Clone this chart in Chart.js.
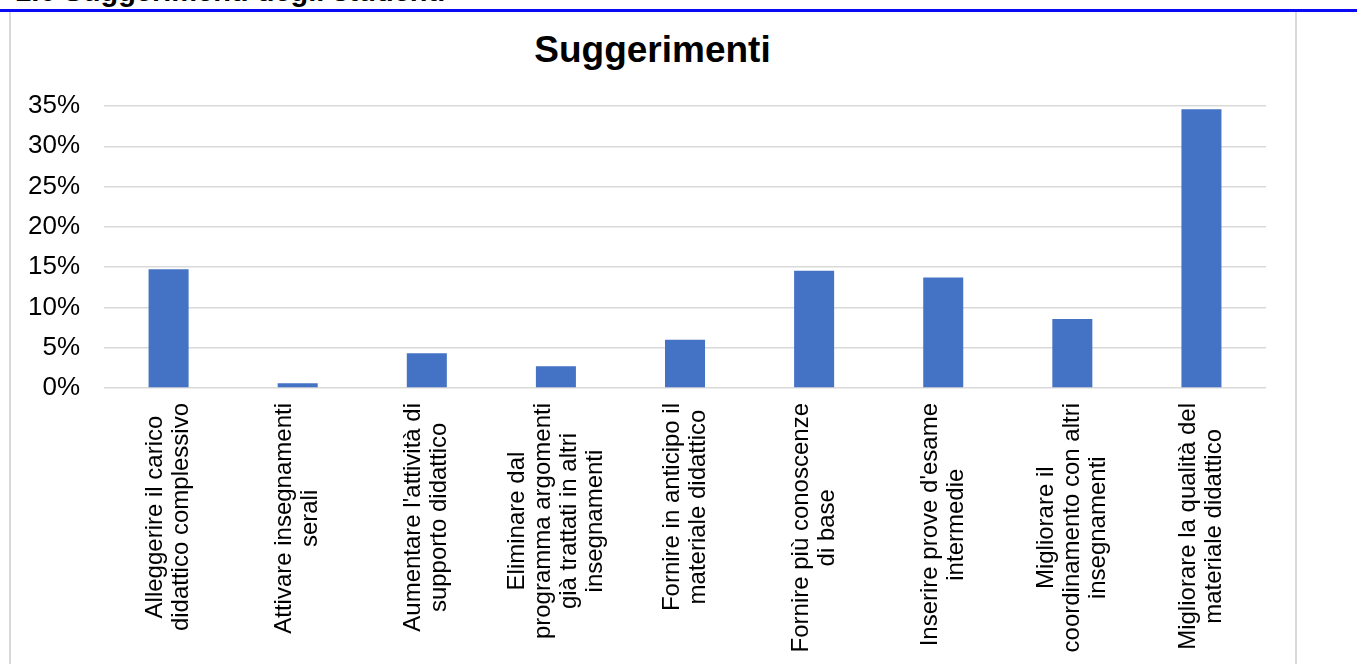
<!DOCTYPE html>
<html lang="it">
<head>
<meta charset="utf-8">
<title>Suggerimenti</title>
<script src="https://cdn.jsdelivr.net/npm/chart.js@4.4.1/dist/chart.umd.min.js"></script>
<style>
    html, body {
        margin: 0;
        padding: 0;
        background: #fff;
        width: 1357px;
        height: 664px;
        overflow: hidden;
        font-family: 'Liberation Sans', Arial, sans-serif;
    }
    #section-title {
        position: absolute;
        left: 15px;
        top: -23px;
        font-size: 29px;
        line-height: 29px;
        font-weight: bold;
        color: #000;
        white-space: nowrap;
    }
    #rule {
        position: absolute;
        left: 0;
        top: 9px;
        width: 1357px;
        height: 3px;
        background: #0a0af5;
    }
    #chart-box {
        position: absolute;
        left: 9px;
        top: 12px;
        width: 1284px;
        height: 652px;
        border-left: 2px solid #d9d9d9;
        border-right: 2px solid #d9d9d9;
    }
    /* chart title, centred on the chart box */
    #chart-title {
        position: absolute;
        left: 11px;
        top: 31px;
        width: 1283px;
        text-align: center;
        font-size: 37px;
        line-height: 37px;
        font-weight: bold;
        color: #000;
    }
    #chart-wrap {
        position: absolute;
        left: 11px;
        top: 12px;
        width: 1283px;
        height: 652px;
    }
</style>
</head>
<body>
<div id="section-title">1.6 Suggerimenti degli studenti</div>
<div id="rule"></div>
<div id="chart-box"></div>
<div id="chart-title">Suggerimenti</div>
<div id="chart-wrap"><canvas id="myChart"></canvas></div>

<script>
// Categories (one entry per bar, split in lines as in the original)
const categories = [
    ['Alleggerire il carico', 'didattico complessivo'],
    ['Attivare insegnamenti', 'serali'],
    ["Aumentare l'attività di", 'supporto didattico'],
    ['Eliminare dal', 'programma argomenti', 'già trattati in altri', 'insegnamenti'],
    ['Fornire in anticipo il', 'materiale didattico'],
    ['Fornire più conoscenze', 'di base'],
    ["Inserire prove d'esame", 'intermedie'],
    ['Migliorare il', 'coordinamento con altri', 'insegnamenti'],
    ['Migliorare la qualità del', 'materiale didattico']
];

// Share of students for each suggestion (%)
const suggestionShares = [14.75, 0.6, 4.3, 2.7, 6.0, 14.55, 13.7, 8.55, 34.6];

// Y axis ticks (%)
const yTicks = [0, 5, 10, 15, 20, 25, 30, 35];

const FONT = "'Liberation Sans', Arial, sans-serif";
const LABEL_SIZE = 24;
const LABEL_LINE = 26;
const LABEL_GAP = 15;

const ChartModule = (() => {
    let chartInstance = null;

    // Draws the rotated category labels with lines centred on each other
    const centeredXLabels = {
        id: 'centeredXLabels',
        afterDraw(chart) {
            const { ctx } = chart;
            const xScale = chart.scales.x;
            const yScale = chart.scales.y;
            ctx.save();
            ctx.font = LABEL_SIZE + 'px ' + FONT;
            ctx.fillStyle = '#000';
            ctx.textAlign = 'center';
            ctx.textBaseline = 'middle';
            categories.forEach((lines, i) => {
                const cx = xScale.getPixelForValue(i);
                const w = Math.max(...lines.map(l => ctx.measureText(l).width));
                ctx.save();
                ctx.translate(cx, yScale.bottom + LABEL_GAP);
                ctx.rotate(-Math.PI / 2);
                lines.forEach((line, j) => {
                    ctx.fillText(line, -w / 2, (j - (lines.length - 1) / 2) * LABEL_LINE);
                });
                ctx.restore();
            });
            ctx.restore();
        }
    };

    function renderChart() {
        const chartElement = document.getElementById('myChart');
        if (!chartElement) {
            console.error("Canvas element with id 'myChart' not found.");
            return;
        }

        if (chartInstance) {
            chartInstance.destroy();
        }

        const ctx = chartElement.getContext('2d');
        chartInstance = new Chart(ctx, {
            type: 'bar',
            data: {
                labels: categories,
                datasets: [{
                    label: 'Suggerimenti',
                    data: suggestionShares,
                    backgroundColor: '#4472C4',
                    borderWidth: 0,
                    barPercentage: 0.31,
                    categoryPercentage: 1
                }]
            },
            options: {
                responsive: true,
                maintainAspectRatio: false,
                animation: false,
                layout: {
                    padding: { top: 94, left: 17, right: 28, bottom: 276 }
                },
                plugins: {
                    legend: { display: false },
                    tooltip: { enabled: false },
                    title: { display: false }
                },
                scales: {
                    x: {
                        grid: { display: false, drawTicks: false },
                        border: { display: false },
                        ticks: { display: false }
                    },
                    y: {
                        min: yTicks[0],
                        max: yTicks[yTicks.length - 1],
                        afterBuildTicks: (scale) => {
                            scale.ticks = yTicks.map(v => ({ value: v }));
                        },
                        grid: {
                            color: '#d9d9d9',
                            lineWidth: 1.5,
                            drawTicks: true,
                            tickLength: 24,
                            tickColor: 'rgba(0,0,0,0)'
                        },
                        border: { display: false },
                        ticks: {
                            padding: 0,
                            color: '#000',
                            font: { family: FONT, size: 26 },
                            callback: (v) => v + '%'
                        }
                    }
                }
            },
            plugins: [centeredXLabels]
        });
    }

    return { init: renderChart };
})();

ChartModule.init();
</script>
</body>
</html>
